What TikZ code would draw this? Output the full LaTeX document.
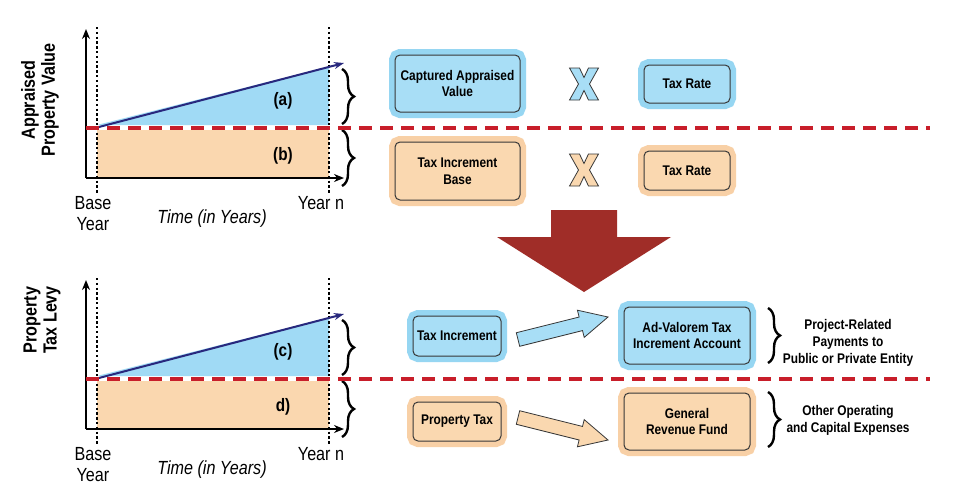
\documentclass[tikz,border=0pt]{standalone}
\usepackage{fontspec}
\setmainfont[FakeStretch=0.85]{Liberation Sans}
\usetikzlibrary{calc,arrows.meta,decorations.pathreplacing}
\definecolor{cblue}{RGB}{168,222,246}
\definecolor{gblue}{RGB}{150,214,242}
\definecolor{corange}{RGB}{250,216,176}
\definecolor{gorange}{RGB}{248,208,166}
\definecolor{fblue}{RGB}{160,218,245}
\definecolor{forange}{RGB}{250,215,175}
\definecolor{cred}{RGB}{200,30,42}
\definecolor{cnavy}{RGB}{40,40,125}
\definecolor{cbig}{RGB}{160,45,40}
\definecolor{cedge}{RGB}{55,55,55}
\newcommand\fatarrow[3]{%
  \coordinate (hb) at ($(#2)!28pt!(#1)$);
  \draw[fill=#3, draw=cedge, line width=0.8pt, line join=miter]
    ($(#1)!7pt!90:(#2)$) -- ($(hb)!7pt!-90:(#1)$) -- ($(hb)!14pt!-90:(#1)$) -- (#2)
    -- ($(hb)!14pt!90:(#1)$) -- ($(hb)!7pt!90:(#1)$) -- ($(#1)!7pt!-90:(#2)$) -- cycle;}
\newcommand\bigx[3]{%
  \draw[fill=#3, draw=cedge, line width=0.8pt, shift={(#1,#2)}]
    (-14.5,-16) -- (-4.5,-16) -- (0,-6.5) -- (4.5,-16) -- (14.5,-16) -- (5.5,0) -- (14.5,16)
    -- (4.5,16) -- (0,6.5) -- (-4.5,16) -- (-14.5,16) -- (-5.5,0) -- cycle;}
\tikzset{
  boxbase/.style={draw=cedge, line width=1pt, rounded corners=5pt, inner sep=0pt,
    align=center, font=\bfseries\fontsize{14}{16.5}\selectfont},
  bluebox/.style={boxbase, fill=cblue, preaction={draw=gblue, line width=12pt}},
  orangebox/.style={boxbase, fill=corange, preaction={draw=gorange, line width=12pt}},
  axis/.style={line width=2.6pt, -{Stealth[length=10pt,width=8pt]}},
  dotline/.style={line width=2.4pt, dash pattern=on 2.4pt off 2.4pt},
  reddash/.style={cred, line width=4pt, dash pattern=on 13pt off 8pt},
  growth/.style={cnavy, line width=2pt, -{Stealth[length=10pt,width=7pt]}},
  curly/.style={decorate, decoration={brace, amplitude=12pt}, line width=2.4pt},
  ticklbl/.style={font=\fontsize{19}{21}\selectfont, align=center},
  timelbl/.style={font=\itshape\fontsize{19}{21}\selectfont},
  ylbl/.style={font=\bfseries\fontsize{19}{20}\selectfont, align=center, rotate=90},
  arealbl/.style={font=\bfseries\fontsize{18}{20}\selectfont},
  sidelbl/.style={font=\bfseries\fontsize{14}{17}\selectfont, align=center},
}
\begin{document}
\begin{tikzpicture}[x=1pt,y=-1pt]
\useasboundingbox (0,0) rectangle (959,493);
\fill[white] (0,0) rectangle (959,493);

% ---------- charts ----------
\foreach \dy/\la/\lb in {0/(a)/(b), 251/(c)/d)} {
\begin{scope}[shift={(0,\dy)}]
  \coordinate (o) at (86,178);
  \coordinate (yt) at (86,29);
  \coordinate (xt) at (344,178);
  \coordinate (g0) at (97,127.5);
  \coordinate (g1) at (344,63);
  \fill[fblue] (97,125) -- (329,66.5) -- (329,125) -- cycle;
  \fill[forange] (97,130) rectangle (329,177);
  \draw[dotline] (97,27) -- (97,194);
  \draw[dotline] (329,27) -- (329,194);
  \draw[axis] (o) -- (yt);
  \draw[axis] (o) -- (xt);
  \draw[growth] (g0) -- (g1);
  \node[arealbl] at (283,101) {\la};
  \node[arealbl] at (283,156) {\lb};
  \draw[curly] (342,69) -- (342,124);
  \draw[curly] (342,130) -- (342,186);
  \node[ticklbl] at (93,213.5) {Base\\Year};
  \node[ticklbl] at (321,203) {Year n};
  \node[timelbl] at (212,219) {Time (in Years)};
\end{scope}
}
\node[ylbl] at (40,100) {Appraised\\Property Value};
\node[ylbl] at (42,320) {Property\\Tax Levy};

% ---------- red dashed separators ----------
\coordinate (r1a) at (86,127.5);
\coordinate (r1b) at (930,127.5);
\coordinate (r2a) at (86,378.5);
\coordinate (r2b) at (930,378.5);
\draw[reddash] (r1a) -- (r1b);
\draw[reddash] (r2a) -- (r2b);

% ---------- top formula boxes ----------
\node[bluebox, minimum width=125pt, minimum height=57pt] (cav) at (457.5,83.5) {Captured Appraised\\Value};
\node[bluebox, minimum width=86pt, minimum height=38pt] (tr1) at (687,84) {Tax Rate};
\node[orangebox, minimum width=125pt, minimum height=58pt] (tib) at (457.5,171) {Tax Increment\\Base};
\node[orangebox, minimum width=86pt, minimum height=39pt] (tr2) at (687,170.5) {Tax Rate};
\bigx{584}{84}{cblue}
\bigx{584}{170}{corange}

% ---------- big arrow ----------
\fill[cbig] (551,210) -- (617,210) -- (617,237) -- (671,237) -- (584,292) -- (497,237) -- (551,237) -- cycle;

% ---------- bottom flow ----------
\node[bluebox, minimum width=88pt, minimum height=40pt] (ti) at (457,336) {Tax Increment};
\node[orangebox, minimum width=88pt, minimum height=39pt] (pt) at (457,421.5) {Property Tax};
\node[bluebox, minimum width=126pt, minimum height=57pt] (avt) at (687,335.5) {Ad-Valorem Tax\\Increment Account};
\node[orangebox, minimum width=126pt, minimum height=57pt] (grf) at (687,421.5) {General\\Revenue Fund};
\coordinate (a1s) at (518,339.5);
\coordinate (a1e) at (608,317);
\coordinate (a2s) at (518,417.5);
\coordinate (a2e) at (608,440);
\fatarrow{a1s}{a1e}{cblue}
\fatarrow{a2s}{a2e}{corange}
\draw[curly] (768,308) -- (768,363);
\draw[curly] (768,392) -- (768,447);
\node[sidelbl] (prp) at (848,343) {Project-Related\\Payments to\\Public or Private Entity};
\node[sidelbl] (oth) at (848,420) {Other Operating\\and Capital Expenses};
\end{tikzpicture}
\end{document}
